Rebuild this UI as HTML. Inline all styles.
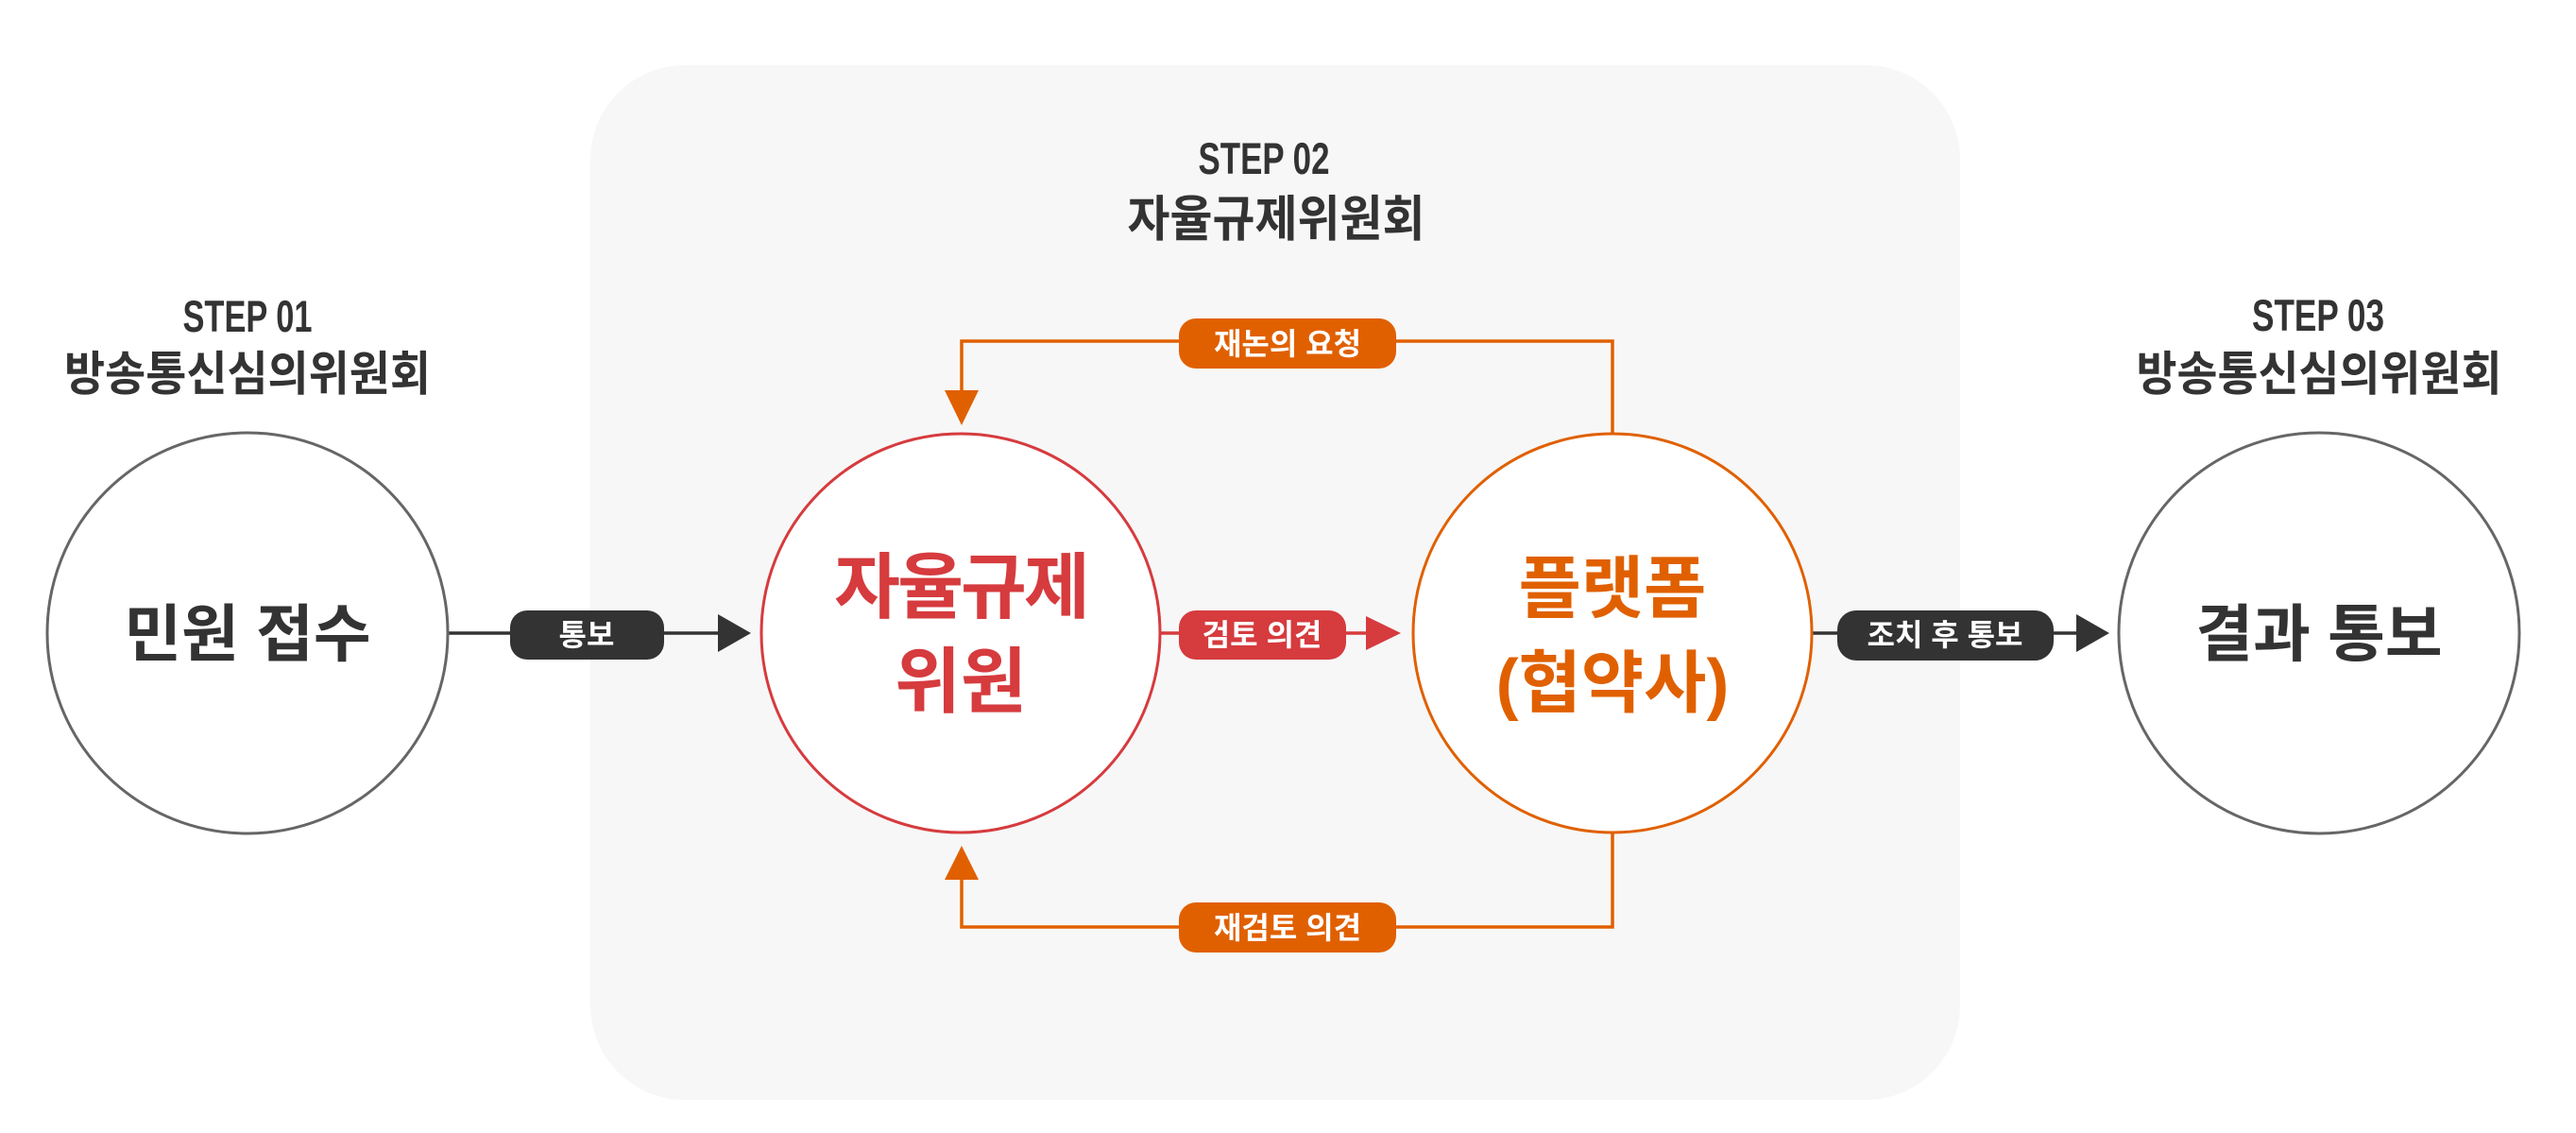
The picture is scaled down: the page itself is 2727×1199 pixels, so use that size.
<!DOCTYPE html>
<html><head><meta charset="utf-8"><style>
html,body{margin:0;padding:0;background:#fff;}
svg{display:block;}
.k{font-family:"Liberation Sans","Noto Sans CJK KR",sans-serif;font-weight:bold;}
.s{font-family:"Liberation Sans Narrow","Liberation Sans",sans-serif;font-weight:bold;}
</style></head><body>
<svg width="2727" height="1199" viewBox="0 0 2727 1199" xmlns="http://www.w3.org/2000/svg">
<rect x="625" y="69" width="1450" height="1095" rx="100" fill="#f7f7f7"/>
<g text-anchor="middle" fill="#333">
<text class="s" x="262" y="351" font-size="47" textLength="137" lengthAdjust="spacingAndGlyphs">STEP 01</text>
<text class="k" x="262" y="413" font-size="50" textLength="388" lengthAdjust="spacingAndGlyphs">방송통신심의위원회</text>
<text class="s" x="1338" y="184" font-size="47" textLength="139" lengthAdjust="spacingAndGlyphs">STEP 02</text>
<text class="k" x="1351" y="250" font-size="52" textLength="315" lengthAdjust="spacingAndGlyphs">자율규제위원회</text>
<text class="s" x="2454" y="350" font-size="47" textLength="140" lengthAdjust="spacingAndGlyphs">STEP 03</text>
<text class="k" x="2455" y="413" font-size="50" textLength="387" lengthAdjust="spacingAndGlyphs">방송통신심의위원회</text>
</g>
<g stroke-width="3.5" fill="none">
<line x1="474" y1="670" x2="762" y2="670" stroke="#333"/>
<line x1="1226" y1="670" x2="1448" y2="670" stroke="#d63b3e"/>
<line x1="1918" y1="670" x2="2200" y2="670" stroke="#333"/>
<polyline points="1707,458 1707,361 1018,361 1018,415" stroke="#e06000"/>
<polyline points="1707,882 1707,981 1018,981 1018,929" stroke="#e06000"/>
</g>
<polygon points="760,650 795,670 760,690" fill="#333"/>
<polygon points="1446,652 1483,670 1446,688" fill="#d63b3e"/>
<polygon points="2198,650 2233,670 2198,690" fill="#333"/>
<polygon points="1000,413 1036,413 1018,450" fill="#e06000"/>
<polygon points="1000,931 1036,931 1018,895" fill="#e06000"/>
<circle cx="262" cy="670" r="212" fill="#fff" stroke="#666" stroke-width="3"/>
<circle cx="1017" cy="670" r="211" fill="#fff" stroke="#d63b3e" stroke-width="3"/>
<circle cx="1707" cy="670" r="211" fill="#fff" stroke="#e06000" stroke-width="3"/>
<circle cx="2455" cy="670" r="212" fill="#fff" stroke="#666" stroke-width="3"/>
<g text-anchor="middle">
<text class="k" x="262" y="694" font-size="66" fill="#333">민원 접수</text>
<text class="k" x="1017" y="648" font-size="76" fill="#d63b3e" letter-spacing="-3">자율규제</text>
<text class="k" x="1017" y="748" font-size="76" fill="#d63b3e">위원</text>
<text class="k" x="1707" y="648" font-size="72" fill="#e06000">플랫폼</text>
<text class="k" x="1707" y="748" font-size="72" fill="#e06000">(협약사)</text>
<text class="k" x="2455" y="694" font-size="66" fill="#333">결과 통보</text>
</g>
<rect x="540" y="646" width="163" height="52" rx="18" fill="#333"/>
<rect x="1248" y="646" width="177" height="52" rx="18" fill="#d63b3e"/>
<rect x="1945" y="646" width="229" height="53" rx="20" fill="#333"/>
<rect x="1248" y="337" width="230" height="53" rx="18" fill="#e06000"/>
<rect x="1248" y="955" width="230" height="53" rx="18" fill="#e06000"/>
<g text-anchor="middle" fill="#fff" font-size="32">
<text class="k" x="621" y="683">통보</text>
<text class="k" x="1336" y="683">검토 의견</text>
<text class="k" x="2059" y="683">조치 후 통보</text>
<text class="k" x="1363" y="375">재논의 요청</text>
<text class="k" x="1363" y="993">재검토 의견</text>
</g>
</svg>
</body></html>
